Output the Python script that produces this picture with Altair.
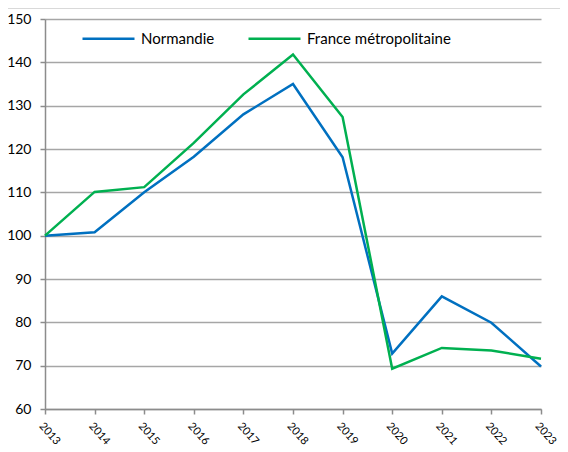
import altair as alt
import pandas as pd

years = list(range(2013, 2024))
normandie = [100, 100.8, 110, 118.2, 128, 135, 118.1, 72.8, 86, 79.9, 69.8]
france = [100, 110.1, 111.2, 121.4, 132.6, 141.8, 127.4, 69.3, 74.1, 73.5, 71.6]
series_names = ["Normandie", "France métropolitaine"]
colors = ["#0070C0", "#00B050"]

rows = []
for y, n, f in zip(years, normandie, france):
    rows.append({"year": y, "value": n, "serie": series_names[0]})
    rows.append({"year": y, "value": f, "serie": series_names[1]})
df = pd.DataFrame(rows)

W, H = 496, 390
PAD = {"left": 37, "top": 11, "right": 19, "bottom": 43}
FONT = "Lato"

lines = alt.Chart(df).mark_line(strokeWidth=2.5).encode(
    x=alt.X("year:Q",
            scale=alt.Scale(domain=[2013, 2023], nice=False, zero=False),
            axis=alt.Axis(values=years, format="d", title=None, grid=False,
                          labelAngle=48, labelAlign="left", labelBaseline="top",
                          labelPadding=6, labelOffset=0, labelOverlap=False,
                          tickSize=5, tickColor="#8c8c8c", tickWidth=1.5,
                          domainColor="#8c8c8c", domainWidth=1.5,
                          labelFont=FONT, labelFontSize=11, labelColor="#000000")),
    y=alt.Y("value:Q",
            scale=alt.Scale(domain=[60, 150], nice=False, zero=False),
            axis=alt.Axis(values=list(range(60, 151, 10)), title=None,
                          grid=True, gridColor="#a6a6a6", gridWidth=1.5,
                          tickSize=5, tickColor="#8c8c8c", tickWidth=1.5,
                          domainColor="#8c8c8c", domainWidth=1.5,
                          labelPadding=9,
                          labelFont=FONT, labelFontSize=14, labelColor="#000000")),
    color=alt.Color("serie:N",
                    scale=alt.Scale(domain=series_names, range=colors),
                    sort=series_names,
                    legend=alt.Legend(title=None, orient="none", legendX=36, legendY=-8,
                                      direction="horizontal", symbolType="stroke",
                                      symbolSize=2704, symbolStrokeWidth=2.5,
                                      labelFont=FONT, labelFontSize=15,
                                      labelColor="#000000", labelOffset=5,
                                      columnPadding=28)),
)

band = alt.Chart(pd.DataFrame({"a": [0]})).mark_rect(color="#d9d9d9").encode(
    x=alt.value(-PAD["left"]), x2=alt.value(W + PAD["right"]),
    y=alt.value(-PAD["top"]), y2=alt.value(-PAD["top"] + 1),
)

chart = alt.layer(band, lines).properties(
    width=W, height=H, padding=PAD, autosize="none",
).configure_view(stroke=None)

chart.save("out.html", embed_options={"renderer": "svg", "actions": False})
